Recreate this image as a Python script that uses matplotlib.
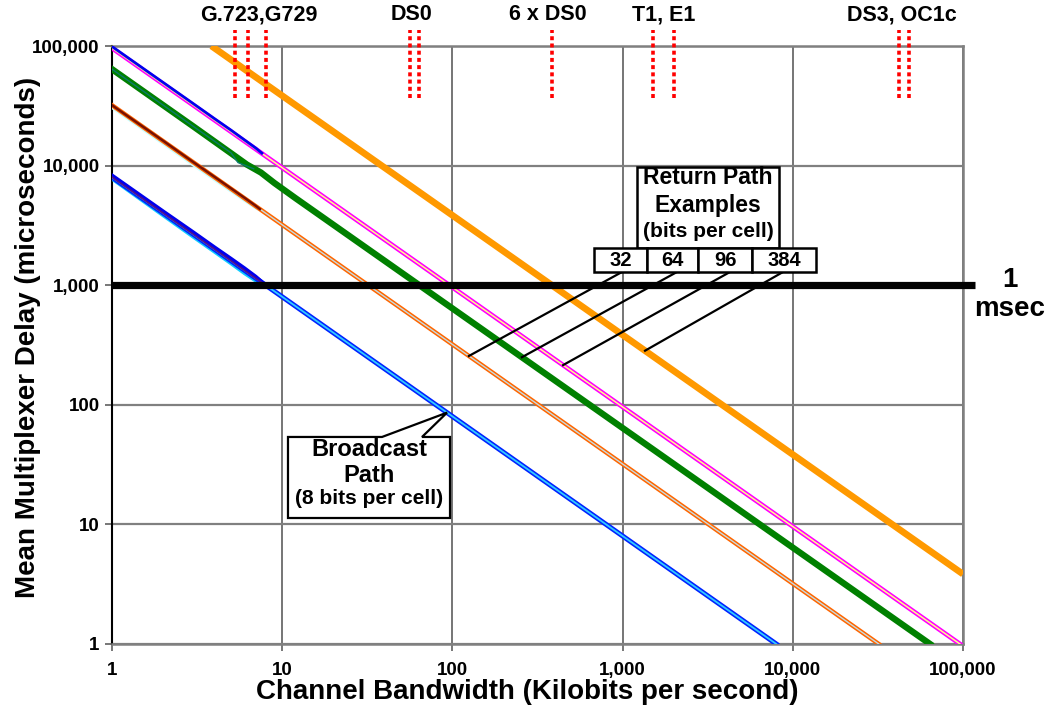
import numpy as np
import matplotlib
matplotlib.use("Agg")
import matplotlib.pyplot as plt
from matplotlib.ticker import FixedLocator, NullLocator
from matplotlib.patches import Polygon, Rectangle
from matplotlib.transforms import blended_transform_factory

plt.rcParams['font.family'] = ['Liberation Sans', 'DejaVu Sans']

# Analytic delay curves: mean multiplexer delay (us) vs channel bandwidth (kbit/s)
bw_8 = [1, 8000]
delay_8 = [8000, 1]
bw_32 = [1, 32000]
delay_32 = [32000, 1]
bw_64 = [1, 3, 5, 6.2, 7.5, 9, 12, 64000]
delay_64 = [64000, 21300, 12700, 10200, 8750, 7150, 5330, 1]
bw_96 = [1, 96000]
delay_96 = [96000, 1]
bw_384 = [3.84, 100000]
delay_384 = [100000, 3.84]

# Simulated results at low bandwidths
sim_bw_8 = [1, 2, 3, 4, 5, 6, 7, 7.8]
sim_8_mid = [8000, 4000, 2670, 2000, 1600, 1330, 1140, 1025]
sim_8_hi = [8300, 4150, 2780, 2080, 1670, 1390, 1180, 1030]
sim_bw_8_lo = [1, 2, 3, 4, 5, 6, 7, 7.6]
sim_8_lo = [7700, 3800, 2520, 1890, 1510, 1250, 1080, 1000]
sim_bw_32 = [1, 2, 3, 4, 5, 6, 7, 7.4]
sim_32_mid = [32000, 16100, 10700, 8050, 6450, 5380, 4600, 4330]
sim_32_lo = [30500, 15200, 10100, 7600, 6100, 5100, 4400, 4250]
sim_bw_64 = [1, 2, 3, 4, 5, 5.5, 6.8]
sim_64 = [64000, 32000, 21300, 16000, 12800, 10600, 9400]
sim_bw_96 = [1, 2, 3, 4, 5, 6, 7, 7.6]
sim_96 = [99000, 49500, 33000, 24700, 19800, 16400, 14000, 12700]

# Reference rates marked along the top (kbit/s)
rate_marks = [5.3, 6.3, 8, 56, 64, 384, 1510, 2005, 42000, 48200]
rate_labels = ["G.723,G729", "DS0", "6 x DS0", "T1, E1", "DS3, OC1c"]

x_ticks = [1, 10, 100, 1000, 10000, 100000]
x_tick_labels = ["1", "10", "100", "1,000", "10,000", "100,000"]
y_ticks = [1, 10, 100, 1000, 10000, 100000]
y_tick_labels = ["1", "10", "100", "1,000", "10,000", "100,000"]

msec_level = 1000
cell_sizes = ["32", "64", "96", "384"]
leader_bw = [125, 256, 447, 1355]
broadcast_bw = 93

W, H = 1048, 707
fig = plt.figure(figsize=(W / 100, H / 100), dpi=100)
ax = fig.add_axes([112 / W, 63 / H, 851 / W, 598 / H])
ax.set_xscale('log')
ax.set_yscale('log')
ax.set_xlim(1, 1e5)
ax.set_ylim(1, 1e5)

ax.xaxis.set_major_locator(FixedLocator(x_ticks))
ax.yaxis.set_major_locator(FixedLocator(y_ticks))
ax.xaxis.set_minor_locator(NullLocator())
ax.yaxis.set_minor_locator(NullLocator())
ax.set_xticklabels(x_tick_labels, fontsize=13.5, fontweight='bold')
ax.set_yticklabels(y_tick_labels, fontsize=13.5, fontweight='bold')
ax.tick_params(axis='x', length=5, width=1.2, color='#606060', pad=8)
ax.tick_params(axis='y', length=5, width=1.2, color='#606060', pad=4)

ax.set_axisbelow(True)
ax.yaxis.grid(True, color='#808080', lw=1.6)
ax.xaxis.grid(True, color='#505050', lw=1.1)
for side in ['top', 'right', 'bottom']:
    ax.spines[side].set_color('#808080')
    ax.spines[side].set_linewidth(1.8)
ax.spines['left'].set_color('black')
ax.spines['left'].set_linewidth(1.5)

ax.set_xlabel("Channel Bandwidth (Kilobits per second)", fontsize=20,
              fontweight='bold')
ax.xaxis.set_label_coords(0.488, -0.058)
ax.set_ylabel("Mean Multiplexer Delay (microseconds)", fontsize=20,
              fontweight='bold')
ax.yaxis.set_label_coords(-0.083, 0.5125)

# analytic curves (double-stroked where applicable)
ax.plot(bw_384, delay_384, color='#ff9900', lw=4.8, zorder=3, solid_capstyle='butt')
ax.plot(bw_96, delay_96, color='#ff00ff', lw=3.4, zorder=3)
ax.plot(bw_96, delay_96, color='#ffff88', lw=1.1, zorder=3.1)
ax.plot(bw_64, delay_64, color='#008000', lw=4.6, zorder=3)
ax.plot(bw_32, delay_32, color='#ff6600', lw=3.2, zorder=3)
ax.plot(bw_32, delay_32, color='#c8dce0', lw=1.0, zorder=3.1)
ax.plot(bw_8, delay_8, color='#0022ff', lw=3.6, zorder=3)
ax.plot(bw_8, delay_8, color='#33ccff', lw=1.3, zorder=3.1)

# simulated curves
ax.plot(sim_bw_96, sim_96, color='#0000ee', lw=2.0, zorder=3.2)
ax.plot(sim_bw_64, sim_64, color='#0a7a6a', lw=1.0, zorder=3.2)
ax.plot(sim_bw_32, sim_32_lo, color='#ccffff', lw=2.0, zorder=2.9)
ax.plot(sim_bw_32, sim_32_mid, color='#7a1000', lw=1.8, zorder=3.2)
ax.plot(sim_bw_8_lo, sim_8_lo, color='#11ccff', lw=2.2, zorder=2.9)
ax.plot(sim_bw_8, sim_8_hi, color='#0000ee', lw=2.6, zorder=3.2)
ax.plot(sim_bw_8, sim_8_mid, color='#55108a', lw=1.2, zorder=3.3)

# 1 msec reference line
ax.plot([1, 117000], [msec_level, msec_level], color='black', lw=5.2,
        zorder=6, clip_on=False, solid_capstyle='butt')
ax.text(1.0552, (644 - 280) / 598, "1", transform=ax.transAxes, ha='center',
        va='center', fontsize=20, fontweight='bold')
ax.text(1.0552, (644 - 309) / 598, "msec", transform=ax.transAxes, ha='center',
        va='center', fontsize=20, fontweight='bold')

# reference rate markers above the plot
trans = blended_transform_factory(ax.transData, ax.transAxes)
for r in rate_marks:
    ax.plot([r, r], [0.913, 1.027], transform=trans, color='#ff0000', lw=2.6,
            linestyle=(0, (1.1, 0.9)), solid_capstyle='butt', clip_on=False, zorder=5)
label_px = [259, 411, 548, 664, 902]
for lab, px in zip(rate_labels, label_px):
    ax.text((px - 112) / 851, (644 - 15) / 598, lab, transform=ax.transAxes,
            ha='center', va='center', fontsize=15.5, fontweight='bold')


def to_axes(x, y):
    return ax.transAxes.inverted().transform(ax.transData.transform((x, y)))


def on_curve(bw, delay, x):
    return 10 ** np.interp(np.log10(x), np.log10(bw), np.log10(delay))


# Return path callout
ax.add_patch(Rectangle((0.6169, 0.6622), 0.7838 - 0.6169, 0.7977 - 0.6622,
                       transform=ax.transAxes, facecolor='white', edgecolor='black',
                       lw=1.8, zorder=9, clip_on=False))
ax.text(0.7004, 0.7795, "Return Path", transform=ax.transAxes, ha='center',
        va='center', fontsize=16.5, fontweight='bold', zorder=10)
ax.text(0.7004, 0.7340, "Examples", transform=ax.transAxes, ha='center',
        va='center', fontsize=16.5, fontweight='bold', zorder=10)
ax.text(0.7004, 0.6890, "(bits per cell)", transform=ax.transAxes, ha='center',
        va='center', fontsize=15, fontweight='bold', zorder=10)

cell_edges = [0.5664, 0.6287, 0.6886, 0.7521, 0.8273]
leader_start = [0.5993, 0.6639, 0.7262, 0.7885]
curves = [(bw_32, delay_32), (bw_64, delay_64), (bw_96, delay_96), (bw_384, delay_384)]
for i, lab in enumerate(cell_sizes):
    x0, x1 = cell_edges[i], cell_edges[i + 1]
    ax.add_patch(Rectangle((x0, 0.6221), x1 - x0, 0.6622 - 0.6221,
                           transform=ax.transAxes, facecolor='white',
                           edgecolor='black', lw=1.8, zorder=9, clip_on=False))
    ax.text((x0 + x1) / 2, 0.6421, lab, transform=ax.transAxes, ha='center',
            va='center', fontsize=14.5, fontweight='bold', zorder=10)
    bw, dl = curves[i]
    tx, ty = to_axes(leader_bw[i], on_curve(bw, dl, leader_bw[i]))
    ax.plot([leader_start[i], tx], [0.6221, ty], transform=ax.transAxes,
            color='black', lw=1.6, zorder=8)

# Broadcast path callout
tip = to_axes(broadcast_bw, on_curve(bw_8, delay_8, broadcast_bw))
top, bot, left, right = 0.3462, 0.2107, 0.2068, 0.3972
verts = [(0.3173, top), tuple(tip), (0.3643, top), (right, top), (right, bot),
         (left, bot), (left, top)]
ax.add_patch(Polygon(verts, closed=True, transform=ax.transAxes,
                     facecolor='white', edgecolor='black', lw=1.6, zorder=9))
cx = (left + right) / 2
ax.text(cx, (644 - 449) / 598, "Broadcast", transform=ax.transAxes, ha='center',
        va='center', fontsize=17, fontweight='bold', zorder=10)
ax.text(cx, (644 - 475) / 598, "Path", transform=ax.transAxes, ha='center',
        va='center', fontsize=17, fontweight='bold', zorder=10)
ax.text(cx, (644 - 499) / 598, "(8 bits per cell)", transform=ax.transAxes,
        ha='center', va='center', fontsize=15, fontweight='bold', zorder=10)

fig.savefig("out.png", dpi=100)
